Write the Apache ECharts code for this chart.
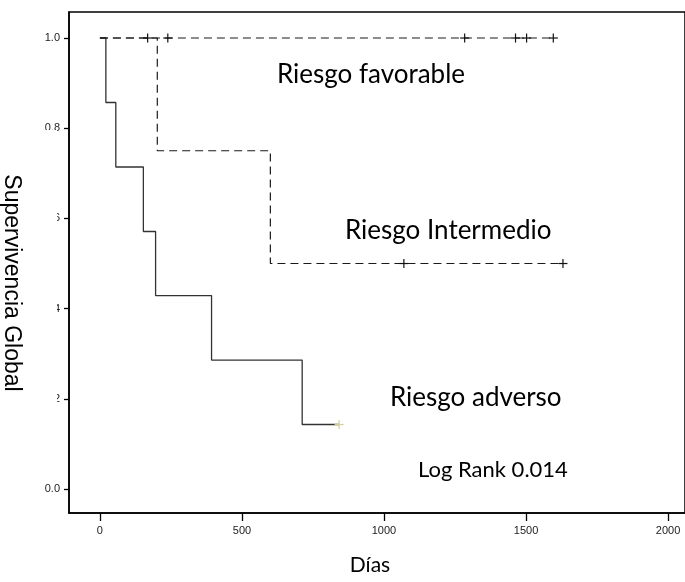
<!DOCTYPE html>
<html>
<head>
<meta charset="utf-8">
<script src="https://cdn.jsdelivr.net/npm/echarts@6/dist/echarts.min.js"></script>
<style>
  html, body { margin: 0; padding: 0; background: #fff; }
  #chart { width: 685px; height: 582px; }
</style>
</head>
<body>
<div id="chart"></div>
<script>
// Kaplan-Meier step curves: time in days, cumulative survival after each step
const adverseTimes = [0, 21, 56, 153, 196, 393, 712, 842];
const adverseSurv  = [1.0, 0.857, 0.714, 0.571, 0.429, 0.286, 0.143, 0.143];
const adverseCensored = [842];
const adverseCensoredSurv = [0.143];

const intermTimes = [0, 202, 600, 1630];
const intermSurv  = [1.0, 0.75, 0.5, 0.5];
const intermCensored = [1070, 1630];
const intermCensoredSurv = [0.5, 0.5];

const favTimes = [0, 1596];
const favSurv  = [1.0, 1.0];
const favCensored = [168, 239, 1284, 1463, 1502, 1596];
const favCensoredSurv = [1.0, 1.0, 1.0, 1.0, 1.0, 1.0];

const xTicks = [0, 500, 1000, 1500, 2000];
const yTicks = [0.0, 0.2, 0.4, 0.6, 0.8, 1.0];

const groupLabels = ['Riesgo favorable', 'Riesgo Intermedio', 'Riesgo adverso'];
const testLabel = 'Log Rank 0.014';
const xTitle = 'Días';
const yTitle = 'Supervivencia Global';

const zip = (a, b) => a.map((v, i) => [v, b[i]]);

// '+' marks for censored observations
function plusRenderer(color) {
  return function (params, api) {
    const p = api.coord([api.value(0), api.value(1)]);
    const h = 4.5;
    const style = { stroke: color, lineWidth: 1.2 };
    return {
      type: 'group',
      children: [
        { type: 'line', shape: { x1: p[0] - h, y1: p[1], x2: p[0] + h, y2: p[1] }, style },
        { type: 'line', shape: { x1: p[0], y1: p[1] - h, x2: p[0], y2: p[1] + h }, style }
      ]
    };
  };
}

const chart = echarts.init(document.getElementById('chart'), null, { renderer: 'canvas' });

const lineCol = '#1a1a1a';
const textFont = 'Lato, "Open Sans", sans-serif';
const tickFont = '"Liberation Sans", Arial, sans-serif';

chart.setOption({
  animation: false,
  backgroundColor: '#ffffff',
  grid: { left: 69, top: 12, right: -2, bottom: 69, show: true, borderColor: '#000', borderWidth: 1.5, backgroundColor: 'transparent' },
  xAxis: {
    type: 'value', min: -108.8, max: 2059.6,
    axisLine: { show: true, onZero: false, lineStyle: { color: '#000', width: 1.5 } },
    axisTick: { show: true, customValues: xTicks, length: 8, lineStyle: { color: '#000', width: 1.3 } },
    axisLabel: { customValues: xTicks, margin: 12, color: '#222', fontSize: 11, fontFamily: tickFont,
      formatter: v => String(v) },
    splitLine: { show: false }
  },
  yAxis: {
    type: 'value', min: -0.0532, max: 1.0577,
    axisLine: { show: true, onZero: false, lineStyle: { color: '#000', width: 1.5 } },
    axisTick: { show: true, customValues: yTicks, length: 5, lineStyle: { color: '#000', width: 1.3 } },
    axisLabel: { customValues: yTicks, margin: 9, color: '#222', fontSize: 11, fontFamily: tickFont,
      formatter: v => v.toFixed(1) },
    splitLine: { show: false }
  },
  series: [
    { name: 'favorable', type: 'line', step: 'end', data: zip(favTimes, favSurv), symbol: 'none',
      lineStyle: { color: lineCol, width: 1.2, type: [8, 5] }, z: 3 },
    { name: 'intermedio', type: 'line', step: 'end', data: zip(intermTimes, intermSurv), symbol: 'none',
      lineStyle: { color: lineCol, width: 1.2, type: [8, 5] }, z: 3 },
    { name: 'adverso', type: 'line', step: 'end', data: zip(adverseTimes, adverseSurv), symbol: 'none',
      lineStyle: { color: '#333', width: 1.3, type: 'solid' }, z: 2 },
    { type: 'custom', renderItem: plusRenderer('#111'), data: zip(favCensored, favCensoredSurv), z: 4 },
    { type: 'custom', renderItem: plusRenderer('#111'), data: zip(intermCensored, intermCensoredSurv), z: 4 },
    { type: 'custom', renderItem: plusRenderer('#d4cf96'), data: zip(adverseCensored, adverseCensoredSurv), z: 4 }
  ],
  graphic: [
    // y-axis title box, sitting over part of the tick labels
    { type: 'rect', shape: { x: 0, y: 130, width: 57, height: 311 }, style: { fill: '#fff' }, z: 100 },
    { type: 'text', x: 11, y: 283, rotation: -Math.PI / 2, z: 101,
      style: { text: yTitle, fill: '#000', font: '23px ' + tickFont, align: 'center', verticalAlign: 'middle' } },
    { type: 'text', x: 370, y: 565, z: 101,
      style: { text: xTitle, fill: '#000', font: '21px ' + textFont, align: 'center', verticalAlign: 'middle' } },
    { type: 'text', x: 277, y: 75, z: 101,
      style: { text: groupLabels[0], fill: '#000', font: '26px ' + textFont, align: 'left', verticalAlign: 'middle' } },
    { type: 'text', x: 345, y: 231, z: 101,
      style: { text: groupLabels[1], fill: '#000', font: '26px ' + textFont, align: 'left', verticalAlign: 'middle' } },
    { type: 'text', x: 390, y: 398, z: 101,
      style: { text: groupLabels[2], fill: '#000', font: '26px ' + textFont, align: 'left', verticalAlign: 'middle' } },
    { type: 'text', x: 418, y: 470, z: 101,
      style: { text: testLabel, fill: '#000', font: '22px ' + textFont, align: 'left', verticalAlign: 'middle' } }
  ]
});
</script>
</body>
</html>
